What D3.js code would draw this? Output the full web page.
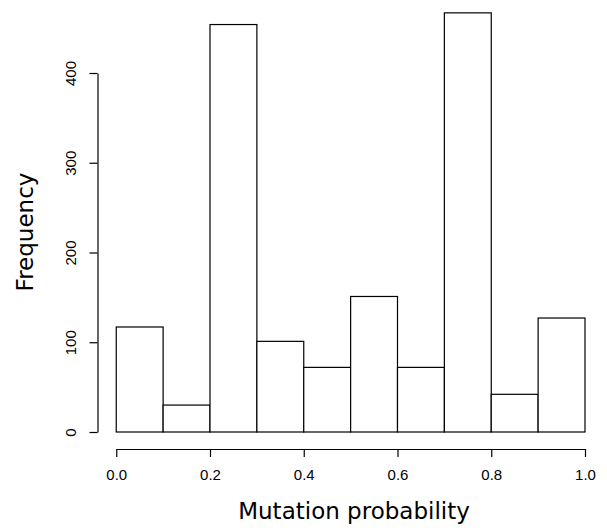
<!DOCTYPE html>
<html>
<head>
<meta charset="utf-8">
<script src="https://cdn.jsdelivr.net/npm/d3@7"></script>
<style>
  body { margin: 0; background: #fff; }
</style>
</head>
<body>
<div id="chart"></div>
<script>
// histogram bins (left edges) and counts
const binStarts = [0.0, 0.1, 0.2, 0.3, 0.4, 0.5, 0.6, 0.7, 0.8, 0.9];
const binWidth = 0.1;
const counts = [117, 30, 454, 101, 72, 151, 72, 467, 42, 127];
const xTicks = [0.0, 0.2, 0.4, 0.6, 0.8, 1.0];
const yTicks = [0, 100, 200, 300, 400];

const svgWidth = 607;
const svgHeight = 531;

const svg = d3.select('#chart')
.append('svg')
.attr('width', svgWidth)
.attr('height', svgHeight);

// scales fitted to the R plot region
const x = d3.scaleLinear().domain([0, 1]).range([116.25, 585]);
const y = d3.scaleLinear().domain([0, 400]).range([432, 73]);

const bins = binStarts.map((b, i) => ({ x0: b, x1: b + binWidth, n: counts[i] }));

svg.append('g')
.selectAll('rect')
.data(bins)
.enter()
.append('rect')
.attr('x', (d) => x(d.x0))
.attr('y', (d) => y(d.n))
.attr('width', (d) => x(d.x1) - x(d.x0))
.attr('height', (d) => y(0) - y(d.n))
.attr('fill', 'white')
.attr('stroke', 'black')
.attr('stroke-width', 1.2);

// x axis, offset below the plot like R
const xAxis = svg.append('g')
.attr('transform', 'translate(0, 449)')
.call(d3.axisBottom(x).tickValues(xTicks).tickSize(8).tickSizeOuter(0).tickPadding(12)
  .tickFormat(d3.format('.1f')));

// y axis
const yAxis = svg.append('g')
.attr('transform', 'translate(97.5, 0)')
.call(d3.axisLeft(y).tickValues(yTicks).tickSize(8).tickSizeOuter(0));

[xAxis, yAxis].forEach((a) => {
    a.select('.domain').attr('stroke', 'black').attr('stroke-width', 1.2);
    a.selectAll('.tick line').attr('stroke', 'black').attr('stroke-width', 1.2);
    a.selectAll('text')
    .attr('font-family', 'Liberation Sans, Arial, sans-serif')
    .attr('font-size', 15)
    .attr('fill', 'black');
});

xAxis.selectAll('.tick text')
.attr('dy', 0)
.attr('y', 0)
.attr('dominant-baseline', 'middle')
.attr('transform', 'translate(0, 27)');

// rotated y tick labels like R's default las=0
yAxis.selectAll('.tick text')
.attr('x', 0)
.attr('dy', 0)
.attr('text-anchor', 'middle')
.attr('transform', 'translate(-25, 0) rotate(-90)')
.attr('dominant-baseline', 'middle');

// axis titles
svg.append('text')
.attr('x', 354)
.attr('y', 519)
.attr('text-anchor', 'middle')
.attr('font-family', 'DejaVu Sans, sans-serif')
.attr('font-size', 23)
.attr('fill', 'black')
.text('Mutation probability');

svg.append('text')
.attr('transform', 'translate(33, 232) rotate(-90)')
.attr('text-anchor', 'middle')
.attr('font-family', 'DejaVu Sans, sans-serif')
.attr('font-size', 23)
.attr('fill', 'black')
.text('Frequency');
</script>
</body>
</html>
